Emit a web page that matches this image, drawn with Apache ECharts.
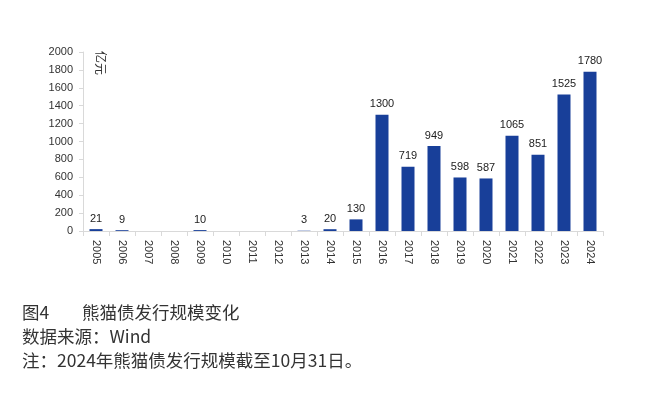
<!DOCTYPE html>
<html><head><meta charset="utf-8">
<script src="https://cdn.jsdelivr.net/npm/echarts@6/dist/echarts.min.js"></script>
<style>html,body{margin:0;padding:0;background:#fff}#c{width:646px;height:395px}</style>
</head><body><div id="c"></div>
<script>
const years = ['2005','2006','2007','2008','2009','2010','2011','2012','2013','2014','2015','2016','2017','2018','2019','2020','2021','2022','2023','2024'];
const issuance = [21, 9, null, null, 10, null, null, null, 3, 20, 130, 1300, 719, 949, 598, 587, 1065, 851, 1525, 1780];
const yTicks = [0, 200, 400, 600, 800, 1000, 1200, 1400, 1600, 1800, 2000];
const unitLabel = '亿元';
const figNo = '图4';
const figTitle = '熊猫债发行规模变化';
const sourceLine = '数据来源：Wind';
const noteLine = '注：2024年熊猫债发行规模截至10月31日。';

const chart = echarts.init(document.getElementById('c'), null, {renderer: 'canvas'});
const font = 'Noto Sans CJK SC, sans-serif';
const capFont = '17.5px ' + font;
chart.setOption({
  animation: false,
  grid: {left: 83, right: 43, top: 52, bottom: 164, containLabel: false},
  xAxis: {
    type: 'category', data: years, boundaryGap: true,
    axisLine: {lineStyle: {color: '#d9d9d9'}},
    axisTick: {show: true, alignWithLabel: false, length: 5, lineStyle: {color: '#d9d9d9'}},
    axisLabel: {rotate: -90, color: '#333', fontSize: 11, fontFamily: 'Liberation Sans, Arial, sans-serif', margin: 9}
  },
  yAxis: {
    type: 'value', min: yTicks[0], max: yTicks[yTicks.length - 1], interval: 200,
    splitLine: {show: false},
    axisLine: {show: true, lineStyle: {color: '#d9d9d9'}},
    axisTick: {show: true, length: 4, lineStyle: {color: '#d9d9d9'}},
    axisLabel: {color: '#333', fontSize: 11, fontFamily: 'Liberation Sans, Arial, sans-serif', margin: 10,
      formatter: v => String(v)}
  },
  series: [{
    type: 'bar', data: issuance, barWidth: '50%',
    itemStyle: {color: '#183f99'},
    label: {show: true, position: 'top', distance: 5, color: '#222', fontSize: 11, fontFamily: 'Liberation Sans, Arial, sans-serif',
      formatter: p => (p.value == null ? '' : String(p.value))}
  }],
  graphic: [
    {type: 'text', x: 101, y: 63, rotation: -Math.PI / 2,
      style: {text: unitLabel, font: '12px ' + font, fill: '#333', align: 'center', verticalAlign: 'middle'}},
    {type: 'text', x: 22, y: 312, style: {text: figNo, font: capFont, fill: '#333', verticalAlign: 'middle'}},
    {type: 'text', x: 82, y: 312, style: {text: figTitle, font: capFont, fill: '#333', verticalAlign: 'middle'}},
    {type: 'text', x: 22, y: 336, style: {text: sourceLine, font: capFont, fill: '#333', verticalAlign: 'middle'}},
    {type: 'text', x: 22, y: 360, style: {text: noteLine, font: capFont, fill: '#333', verticalAlign: 'middle'}}
  ]
});
</script></body></html>
